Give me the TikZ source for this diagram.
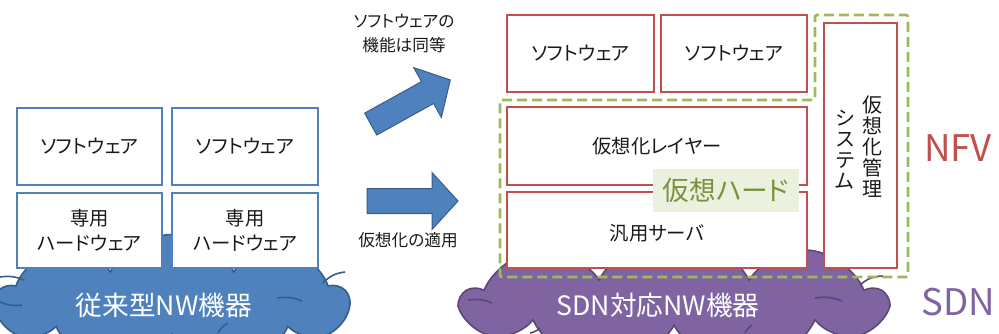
\documentclass[tikz,border=0pt]{standalone}
\usepackage{fontspec}
\setmainfont{Noto Sans CJK JP}[RawFeature={+palt}]
\usetikzlibrary{shapes.symbols}
\definecolor{cblue}{HTML}{4F81BD}
\definecolor{cbluedark}{HTML}{385D8A}
\definecolor{cred}{HTML}{C0504D}
\definecolor{cpurple}{HTML}{8064A2}
\definecolor{cpurpledark}{HTML}{5C4776}
\definecolor{cgreen}{HTML}{9BBB59}
\definecolor{cgreentext}{HTML}{77933C}
\definecolor{cgreenbg}{HTML}{EBF1DE}
\definecolor{ctext}{HTML}{1A1A1A}
\newdimen\pxu
\pxu=0.75pt
\begin{document}
\begin{tikzpicture}[x=0.75pt,y=-0.75pt,
  bluebox/.style={draw=cblue,line width=2.2\pxu,fill=white,inner sep=0pt,align=center,text=ctext,font=\fontsize{14.5}{18.75}\selectfont},
  redbox/.style={draw=cred,line width=2.6\pxu,fill=white,inner sep=0pt,align=center,text=ctext,font=\fontsize{14.5}{18.75}\selectfont},
  cloudshape/.style={cloud,cloud puffs=9,cloud puff arc=125,line width=1.6\pxu,inner sep=0pt},
  cloudtext/.style={text=white,font=\fontsize{20}{22}\selectfont},
  arrowshape/.style={fill=cblue,draw=cbluedark,line width=1\pxu,line join=miter},
  smalltext/.style={text=ctext,font=\fontsize{12.5}{18}\selectfont,align=center},
  vtext/.style={text=ctext,font=\fontsize{15}{15.75}\selectfont,align=center},
]
\useasboundingbox (0,0) rectangle (999,333);
\clip (0,0) rectangle (999,333);

% clouds
\node[cloudshape,fill=cblue,draw=cbluedark,minimum width=352\pxu,minimum height=135\pxu] (cl1) at (172,302) {};
\node[cloudshape,fill=cpurple,draw=cpurpledark,minimum width=422\pxu,minimum height=135\pxu] (cl2) at (674,302) {};
% inner cloud arcs
\draw[cbluedark,line width=1.6\pxu] (0,277) to[bend left=15] (24,280);
\draw[cbluedark,line width=1.6\pxu] (0,302) to[bend right=15] (22,305);
\draw[cbluedark,line width=1.6\pxu] (323,283) to[bend left=20] (345,272);
\draw[cbluedark,line width=1.6\pxu] (277,298) to[bend left=15] (302,301);
\draw[cbluedark,line width=1.6\pxu] (218,333) to[bend left=15] (228,323);
\draw[cpurpledark,line width=1.6\pxu] (468,300) to[bend left=15] (492,303);
\draw[cpurpledark,line width=1.6\pxu] (815,298) to[bend left=15] (842,301);
\draw[cpurpledark,line width=1.6\pxu] (860,285) to[bend left=20] (883,276);
\draw[cpurpledark,line width=1.6\pxu] (540,328) to[bend left=15] (530,333);
\draw[cpurpledark,line width=1.6\pxu] (745,333) to[bend left=15] (752,325);

% left boxes
\node[bluebox,minimum width=145\pxu,minimum height=77\pxu] (ls1) at (89.5,146.5) {ソフトウェア};
\node[bluebox,minimum width=146\pxu,minimum height=77\pxu] (ls2) at (245,146.5) {ソフトウェア};
\node[bluebox,minimum width=145\pxu,minimum height=75\pxu] (lh1) at (89.5,230.5) {専用\\ハードウェア};
\node[bluebox,minimum width=146\pxu,minimum height=75\pxu] (lh2) at (245,230.5) {専用\\ハードウェア};

\node[cloudtext] (cl1t) at (164,305) {従来型NW機器};
\node[cloudtext] (cl2t) at (658,305) {SDN対応NW機器};

% arrows
\begin{scope}[shift={(412.5,201)}]
  \draw[arrowshape] (-45.5,-12.5) -- (19.5,-12.5) -- (19.5,-28.5) -- (45.5,0) -- (19.5,28.5) -- (19.5,12.5) -- (-45.5,12.5) -- cycle;
\end{scope}
\begin{scope}[shift={(410.5,102)},rotate=29]
  \draw[arrowshape] (-45.5,-12.5) -- (19.5,-12.5) -- (19.5,-28.5) -- (45.5,0) -- (19.5,28.5) -- (19.5,12.5) -- (-45.5,12.5) -- cycle;
\end{scope}
\node[smalltext] (t1) at (404,34) {ソフトウェアの\\機能は同等};
\node[smalltext] (t2) at (408,240) {仮想化の適用};

% right boxes
\node[redbox,minimum width=147\pxu,minimum height=77\pxu] (rs1) at (580.5,53.5) {ソフトウェア};
\node[redbox,minimum width=146\pxu,minimum height=77\pxu] (rs2) at (734,53.5) {ソフトウェア};
\node[redbox,minimum width=300\pxu,minimum height=78\pxu] (rl) at (657,146) {仮想化レイヤー};
\node[redbox,minimum width=300\pxu,minimum height=76\pxu] (rsv) at (657,230) {};
\node[text=ctext,font=\fontsize{14.5}{18.75}\selectfont] (rsvt) at (657,233) {汎用サーバ};
\node[redbox,minimum width=73\pxu,minimum height=245\pxu] (rm) at (860.5,145.5) {};
\node[vtext,anchor=north] (rm1) at (872,91) {仮\\想\\化\\管\\理};
\node[vtext,anchor=north] (rm2) at (845,105) {シ\\ス\\テ\\ム};

% virtual hardware label
\node[fill=cgreenbg,text=cgreentext,minimum width=146\pxu,minimum height=43\pxu,inner sep=0pt,font=\fontsize{20}{22}\selectfont] (vh) at (726,190.5) {仮想ハード};

% dashed green region
\draw[cgreen,line width=2.6\pxu,dash pattern=on 10\pxu off 5\pxu,rounded corners=2\pxu]
  (500,100) -- (815,100) -- (815,15) -- (908,15) -- (908,277) -- (500,277) -- cycle;

% labels
\node[text=cred,font=\fontsize{27.5}{30}\selectfont] (nfv) at (958,148) {NFV};
\node[text=cpurple,font=\fontsize{27.5}{30}\selectfont] (sdn) at (958,302) {SDN};
\end{tikzpicture}
\end{document}
